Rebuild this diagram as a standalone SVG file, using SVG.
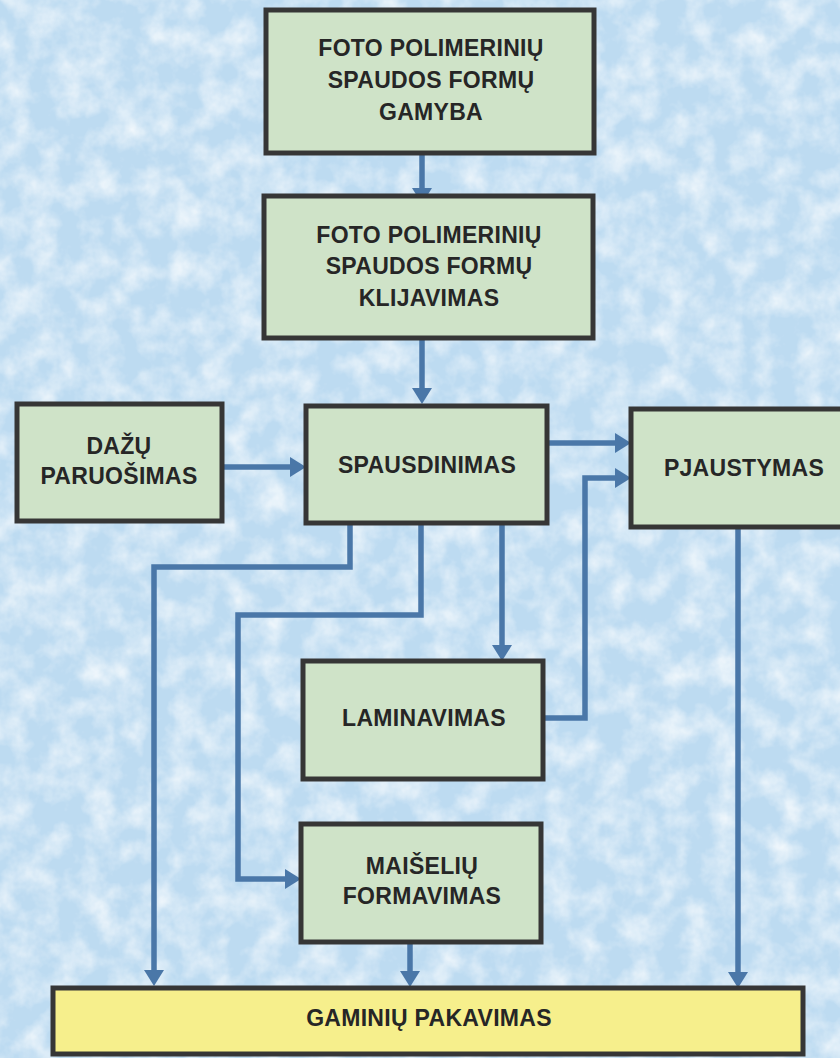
<svg xmlns="http://www.w3.org/2000/svg" width="840" height="1058" viewBox="0 0 840 1058">
  <style>
    .box { fill: #cfe3c8; stroke: #363636; stroke-width: 5; }
    .pack { fill: #f6ef8c; stroke: #363636; stroke-width: 5; }
    .lbl { font-family: "Liberation Sans", Arial, sans-serif; font-weight: bold; font-size: 23px; letter-spacing: 0.3px; fill: #262626; text-anchor: middle; }
    .conn { fill: none; stroke: #4a77a8; stroke-width: 5.5; stroke-linejoin: miter; }
  </style>
  <defs>
    <marker id="arr" markerUnits="userSpaceOnUse" markerWidth="16" markerHeight="20" viewBox="0 0 16 20" refX="0" refY="10" orient="auto">
      <path d="M0,0 L16,10 L0,20 z" fill="#4a77a8"/>
    </marker>
    <filter id="clouds" x="0" y="0" width="100%" height="100%">
      <feTurbulence type="fractalNoise" baseFrequency="0.035" numOctaves="4" seed="7" result="n"/>
      <feColorMatrix in="n" type="matrix" values="0 0 0 0 1  0 0 0 0 1  0 0 0 0 1  0 0 0 1.6 -0.58" />
    </filter>
  </defs>

  <rect x="0" y="0" width="840" height="1058" fill="#bddbf1"/>
  <rect x="0" y="0" width="840" height="1058" filter="url(#clouds)" opacity="0.85"/>

  <g id="connectors">
    <path class="conn" d="M422,153 V188" marker-end="url(#arr)"/>
    <path class="conn" d="M422,339 V388" marker-end="url(#arr)"/>
    <path class="conn" d="M222,467 H290" marker-end="url(#arr)"/>
    <path class="conn" d="M548,443 H615" marker-end="url(#arr)"/>
    <path class="conn" d="M543,718 H585 V478 H615" marker-end="url(#arr)"/>
    <path class="conn" d="M350,523 V567 H154 V970" marker-end="url(#arr)"/>
    <path class="conn" d="M421,523 V615 H238 V879 H285" marker-end="url(#arr)"/>
    <path class="conn" d="M502,523 V645" marker-end="url(#arr)"/>
    <path class="conn" d="M410,943 V971" marker-end="url(#arr)"/>
    <path class="conn" d="M738,528 V972" marker-end="url(#arr)"/>
  </g>

  <g id="n-gamyba">
    <rect class="box" x="266" y="10" width="328" height="143"/>
    <text class="lbl" x="431" y="56">FOTO POLIMERINIŲ</text>
    <text class="lbl" x="431" y="88">SPAUDOS FORMŲ</text>
    <text class="lbl" x="431" y="120">GAMYBA</text>
  </g>

  <g id="n-klijavimas">
    <rect class="box" x="264" y="196" width="329" height="142"/>
    <text class="lbl" x="429" y="243">FOTO POLIMERINIŲ</text>
    <text class="lbl" x="429" y="274">SPAUDOS FORMŲ</text>
    <text class="lbl" x="429" y="306">KLIJAVIMAS</text>
  </g>

  <g id="n-dazu">
    <rect class="box" x="17" y="404" width="205" height="117"/>
    <text class="lbl" x="119" y="454">DAŽŲ</text>
    <text class="lbl" x="119" y="484">PARUOŠIMAS</text>
  </g>

  <g id="n-spausdinimas">
    <rect class="box" x="306" y="406" width="241" height="117"/>
    <text class="lbl" x="427" y="473">SPAUSDINIMAS</text>
  </g>

  <g id="n-pjaustymas">
    <rect class="box" x="631" y="409" width="232" height="118"/>
    <text class="lbl" x="744" y="476">PJAUSTYMAS</text>
  </g>

  <g id="n-laminavimas">
    <rect class="box" x="303" y="661" width="240" height="118"/>
    <text class="lbl" x="424" y="726">LAMINAVIMAS</text>
  </g>

  <g id="n-maiseliu">
    <rect class="box" x="301" y="824" width="240" height="118"/>
    <text class="lbl" x="422" y="874">MAIŠELIŲ</text>
    <text class="lbl" x="422" y="904">FORMAVIMAS</text>
  </g>

  <g id="n-pakavimas">
    <rect class="pack" x="53" y="988" width="750" height="66"/>
    <text class="lbl" x="429" y="1026">GAMINIŲ PAKAVIMAS</text>
  </g>
</svg>
